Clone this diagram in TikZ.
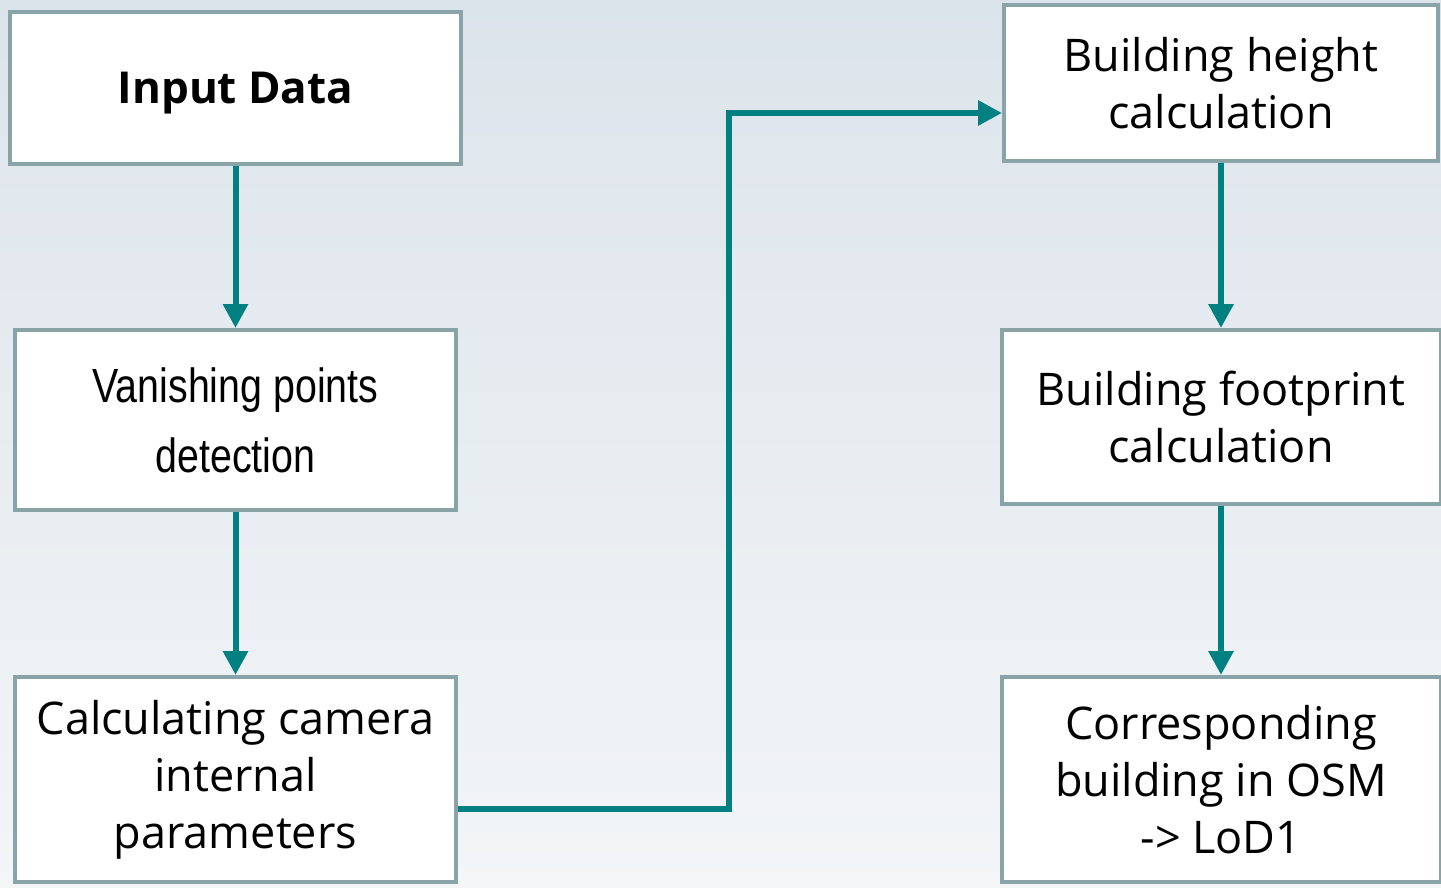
\documentclass[tikz,border=0pt]{standalone}
\usepackage{fontspec}
\setmainfont{Open Sans}
\newfontfamily\narrowfont[FakeStretch=0.82]{Liberation Sans}
\usetikzlibrary{arrows.meta, positioning}
\definecolor{boxline}{HTML}{88A4A6}
\definecolor{flowteal}{HTML}{008080}
\definecolor{bgtop}{HTML}{DCE4EB}
\definecolor{bgbottom}{HTML}{F3F5F7}

\begin{document}
\begin{tikzpicture}[
        x=0.5pt, y=-0.5pt,
        step_box/.style = {rectangle, draw=boxline, fill=white, line width=2pt, align=center, font=\fontsize{22.5}{28.5}\selectfont},
        line/.style = {draw, flowteal, line width=3pt, -{Triangle[width=12pt, length=12pt]}}
    ]

    % Background
    \fill [top color=bgtop, bottom color=bgbottom] (0,0) rectangle (1441,888);
    \useasboundingbox (0,0) rectangle (1441,888);

    % Left column
    \node [step_box, minimum width=225.5pt, minimum height=76pt, text depth=0pt, font=\bfseries\fontsize{22}{26}\selectfont] (input) at (235.5,88) {Input Data};
    \node [step_box, minimum width=220.5pt, minimum height=90pt, below=81pt of input, font=\narrowfont\fontsize{24}{35}\selectfont] (vanish) {Vanishing points\\detection};
    \node [step_box, minimum width=220.5pt, minimum height=102.5pt, below=81.5pt of vanish] (camera) {Calculating camera\\internal\\parameters};

    % Right column
    \node [step_box, minimum width=217pt, minimum height=78pt] (height) at (1221,83) {Building height\\calculation};
    \node [step_box, minimum width=219.5pt, minimum height=87pt, below=82.5pt of height] (footprint) {Building footprint\\calculation};
    \node [step_box, minimum width=219.5pt, minimum height=102.5pt, below=84.5pt of footprint] (osm) {Corresponding\\building in OSM\\-> LoD1};

    \coordinate (bend) at (729,113);

    % Edges
    \path [line] (input) -- (vanish);
    \path [line] (vanish) -- (camera);
    \path [line] ([yshift=-14.5pt]camera.east) -| (bend) -- ([yshift=-15pt]height.west);
    \path [line] (height) -- (footprint);
    \path [line] (footprint) -- (osm);

\end{tikzpicture}
\end{document}
